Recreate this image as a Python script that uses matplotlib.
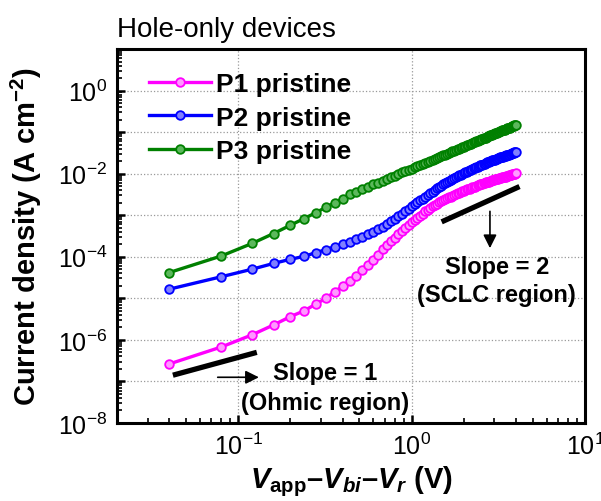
#J-V curves of hole-only devices, log-log with slope guides
import numpy as np
import matplotlib
matplotlib.use('Agg')
import matplotlib.pyplot as plt
from matplotlib.ticker import LogLocator, FuncFormatter, NullFormatter

plt.rcParams['font.family'] = ['Liberation Sans', 'DejaVu Sans']
plt.rcParams['mathtext.fontset'] = 'custom'
plt.rcParams['mathtext.rm'] = 'Liberation Sans'
plt.rcParams['mathtext.it'] = 'Liberation Sans:italic:bold'
plt.rcParams['mathtext.bf'] = 'Liberation Sans:bold'

# applied voltage sweep (V)
voltage = [0.04, 0.08, 0.12, 0.16, 0.20, 0.24, 0.28, 0.32, 0.36, 0.40,
           0.44, 0.48, 0.52, 0.56, 0.60, 0.64, 0.68, 0.72, 0.76, 0.80,
           0.84, 0.88, 0.92, 0.96, 1.00, 1.04, 1.08, 1.12, 1.16, 1.20,
           1.24, 1.28, 1.32, 1.36, 1.40, 1.44, 1.48, 1.52, 1.56, 1.60,
           1.64, 1.68, 1.72, 1.76, 1.80, 1.84, 1.88, 1.92, 1.96, 2.00,
           2.04, 2.08, 2.12, 2.16, 2.20, 2.24, 2.28, 2.32, 2.36, 2.40,
           2.44, 2.48, 2.52, 2.56, 2.60, 2.64, 2.68, 2.72, 2.76, 2.80,
           2.84, 2.88, 2.92, 2.96, 3.00, 3.04, 3.08, 3.12, 3.16, 3.20,
           3.24, 3.28, 3.32, 3.36, 3.40, 3.44, 3.48, 3.52, 3.56, 3.60,
           3.64, 3.68, 3.72, 3.76, 3.80, 3.84, 3.88, 3.92, 3.96, 4.00]

# log10 of current density (A cm^-2)
p1_logj = [-6.58, -6.17, -5.88, -5.64, -5.44, -5.30, -5.14, -5.00, -4.84, -4.71,
           -4.58, -4.46, -4.31, -4.20, -4.08, -3.95, -3.82, -3.72, -3.63, -3.55,
           -3.46, -3.38, -3.31, -3.24, -3.17, -3.11, -3.06, -3.01, -2.96, -2.91,
           -2.87, -2.83, -2.79, -2.76, -2.72, -2.69, -2.66, -2.64, -2.61, -2.59,
           -2.57, -2.55, -2.53, -2.51, -2.49, -2.47, -2.46, -2.44, -2.42, -2.41,
           -2.40, -2.38, -2.37, -2.36, -2.34, -2.33, -2.32, -2.31, -2.30, -2.28,
           -2.27, -2.26, -2.25, -2.24, -2.23, -2.22, -2.21, -2.21, -2.20, -2.19,
           -2.18, -2.17, -2.16, -2.16, -2.15, -2.14, -2.13, -2.13, -2.12, -2.11,
           -2.10, -2.10, -2.09, -2.08, -2.08, -2.07, -2.07, -2.06, -2.05, -2.05,
           -2.04, -2.04, -2.03, -2.03, -2.02, -2.02, -2.01, -2.00, -2.00, -1.99]
p2_logj = [-4.78, -4.48, -4.30, -4.16, -4.06, -3.99, -3.90, -3.83, -3.76, -3.70,
           -3.64, -3.58, -3.52, -3.46, -3.40, -3.34, -3.28, -3.22, -3.15, -3.09,
           -3.03, -2.97, -2.90, -2.85, -2.79, -2.74, -2.69, -2.64, -2.60, -2.55,
           -2.51, -2.47, -2.43, -2.39, -2.35, -2.32, -2.29, -2.26, -2.23, -2.20,
           -2.17, -2.15, -2.13, -2.10, -2.08, -2.06, -2.04, -2.03, -2.01, -1.99,
           -1.97, -1.96, -1.94, -1.92, -1.91, -1.89, -1.87, -1.86, -1.84, -1.83,
           -1.81, -1.80, -1.79, -1.78, -1.77, -1.76, -1.75, -1.73, -1.72, -1.71,
           -1.70, -1.69, -1.68, -1.67, -1.67, -1.66, -1.65, -1.64, -1.63, -1.62,
           -1.61, -1.60, -1.60, -1.59, -1.58, -1.57, -1.57, -1.56, -1.55, -1.55,
           -1.54, -1.53, -1.53, -1.52, -1.51, -1.51, -1.50, -1.49, -1.49, -1.48]
p3_logj = [-4.38, -3.98, -3.68, -3.44, -3.24, -3.08, -2.94, -2.81, -2.70, -2.60,
           -2.50, -2.43, -2.37, -2.32, -2.26, -2.22, -2.17, -2.13, -2.08, -2.05,
           -2.01, -1.97, -1.94, -1.91, -1.88, -1.85, -1.82, -1.79, -1.76, -1.74,
           -1.71, -1.69, -1.67, -1.64, -1.62, -1.60, -1.58, -1.56, -1.54, -1.52,
           -1.50, -1.48, -1.46, -1.45, -1.43, -1.41, -1.40, -1.38, -1.36, -1.35,
           -1.33, -1.32, -1.30, -1.29, -1.28, -1.26, -1.25, -1.24, -1.22, -1.21,
           -1.20, -1.19, -1.17, -1.16, -1.15, -1.14, -1.13, -1.12, -1.10, -1.09,
           -1.08, -1.07, -1.06, -1.05, -1.04, -1.03, -1.02, -1.01, -1.00, -0.99,
           -0.98, -0.97, -0.96, -0.95, -0.95, -0.94, -0.93, -0.92, -0.91, -0.90,
           -0.89, -0.89, -0.88, -0.87, -0.86, -0.85, -0.85, -0.84, -0.83, -0.82]

labels = ['P1 pristine', 'P2 pristine', 'P3 pristine']
colors = ['#ff00ff', '#0000ff', '#008000']
faces = ['#ff99ff', '#8080ff', '#5cb85c']

# slope guide lines and arrows (V, log10 J)
slope1_v = [0.042, 0.128]
slope1_logj = [-6.85, -6.30]
slope2_v = [1.49, 4.19]
slope2_logj = [-3.16, -2.31]
arrow1_v = [0.0734, 0.1365]
arrow1_logj = [-6.90, -6.90]
arrow2_v = [2.83, 2.83]
arrow2_logj = [-2.84, -3.86]

fig = plt.figure(figsize=(6.01, 5.02), dpi=100)
ax = fig.add_axes([0.1947, 0.1554, 0.7787, 0.745])

v = np.array(voltage)
for logj, lab, c, fc in zip([p1_logj, p2_logj, p3_logj], labels, colors, faces):
    ax.plot(v, 10**np.array(logj), '-o', color=c, lw=2.4, ms=6.2,
            mfc=fc, mec=c, mew=1.3, label=lab)

ax.plot(slope1_v, 10**np.array(slope1_logj), color='black', lw=3.8, solid_capstyle='butt')
ax.plot(slope2_v, 10**np.array(slope2_logj), color='black', lw=3.8, solid_capstyle='butt')
ax.annotate('', xy=(arrow1_v[1], 10**arrow1_logj[1]), xytext=(arrow1_v[0], 10**arrow1_logj[0]),
            arrowprops=dict(arrowstyle='-|>', color='black', lw=1.2, mutation_scale=20))
ax.annotate('', xy=(arrow2_v[1], 10**arrow2_logj[1]), xytext=(arrow2_v[0], 10**arrow2_logj[0]),
            arrowprops=dict(arrowstyle='-|>', color='black', lw=1.2, mutation_scale=20))

ax.text(0.316, 10**-6.78, 'Slope = 1', fontsize=17, fontweight='bold', ha='center', va='center')
ax.text(0.316, 10**-7.50, '(Ohmic region)', fontsize=17, fontweight='bold', ha='center', va='center')
ax.text(3.10, 10**-4.23, 'Slope = 2', fontsize=17, fontweight='bold', ha='center', va='center')
ax.text(3.10, 10**-4.90, '(SCLC region)', fontsize=17, fontweight='bold', ha='center', va='center')

ax.set_xscale('log')
ax.set_yscale('log')
ax.set_xlim(0.02, 10)
ax.set_ylim(1e-8, 1e1)

ax.xaxis.set_major_locator(LogLocator(base=10, numticks=20))
ax.xaxis.set_minor_locator(LogLocator(base=10, subs=np.arange(2, 10), numticks=20))
ax.yaxis.set_major_locator(LogLocator(base=10, numticks=20))
ax.yaxis.set_minor_locator(LogLocator(base=10, subs=np.arange(2, 10), numticks=20))
ax.xaxis.set_minor_formatter(NullFormatter())
ax.yaxis.set_minor_formatter(NullFormatter())

def even_decades(val, pos):
    e = int(round(np.log10(val)))
    if e % 2 == 0:
        return r'$\mathdefault{10^{%d}}$' % e
    return ''
ax.yaxis.set_major_formatter(FuncFormatter(even_decades))

ax.grid(True, which='major', ls=':', color='#999999', lw=0.9)
ax.tick_params(which='both', direction='in', top=False, right=False, labelsize=18)
ax.tick_params(which='major', length=6, width=1.8, pad=7)
ax.tick_params(which='minor', length=3.5, width=1.2)
for s in ax.spines.values():
    s.set_linewidth(2.2)

ax.set_xlabel(r'$\mathit{V}_{\mathbf{app}}$–$\mathit{V}_{\mathit{bi}}$–$\mathit{V}_{\mathit{r}}$ (V)',
              fontsize=21, fontweight='bold', labelpad=3)
ax.set_ylabel(r'Current density (A cm$^{\mathbf{-2}}$)', fontsize=21, fontweight='bold')
ax.yaxis.set_label_coords(-0.155, 0.5)

fig.text(0.1947, 0.927, 'Hole-only devices', fontsize=20, ha='left', va='baseline')

ax.legend(loc='upper left', bbox_to_anchor=(0.248, 0.855), bbox_transform=fig.transFigure,
          frameon=False, prop={'weight': 'bold', 'size': 19}, handlelength=2.35,
          handletextpad=0.2, labelspacing=0.37, borderpad=0, borderaxespad=0, numpoints=1)

plt.savefig('out.png', dpi=100)
